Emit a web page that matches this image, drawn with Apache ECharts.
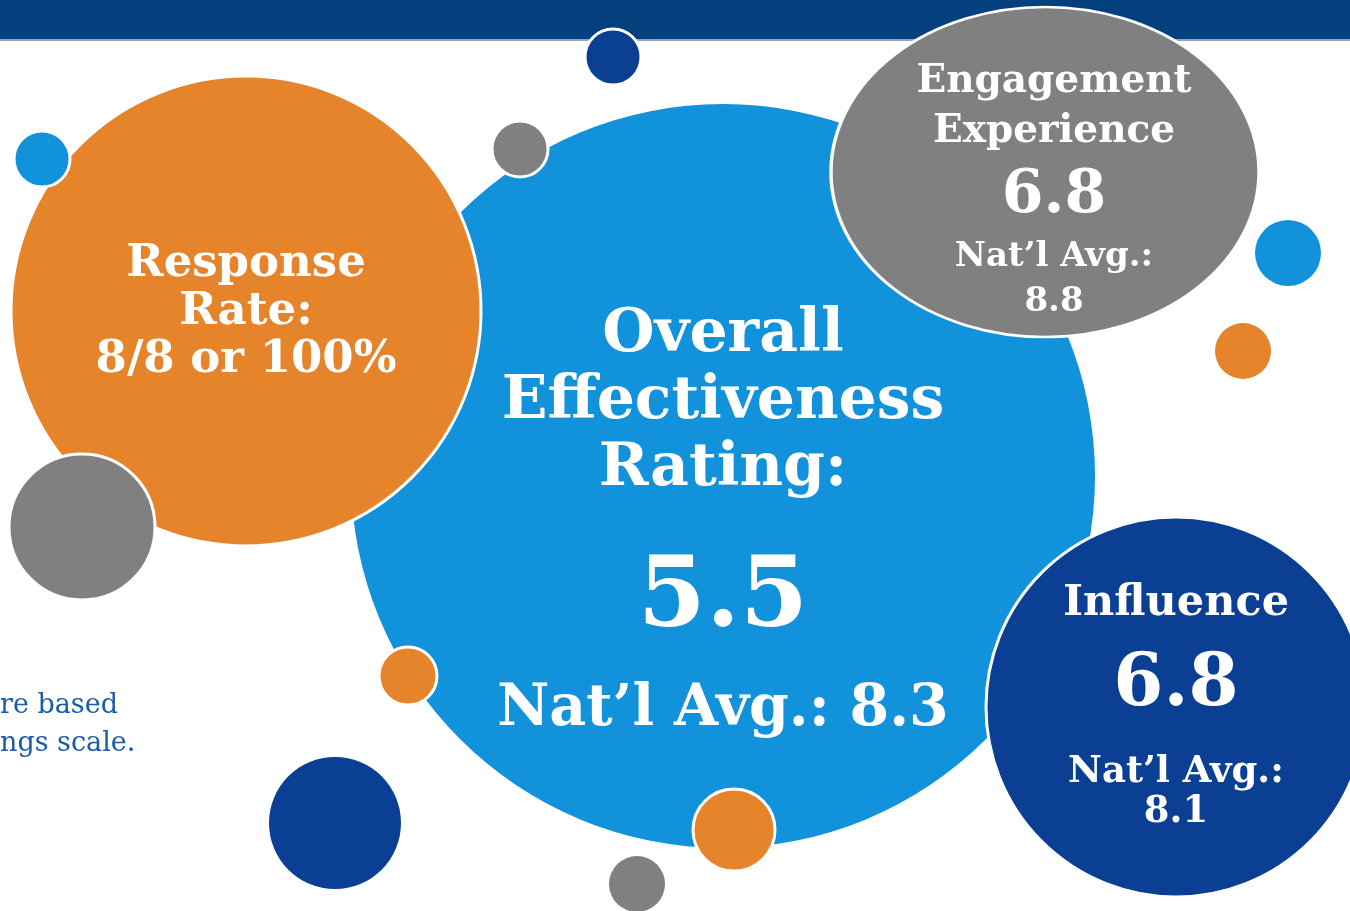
<!DOCTYPE html>
<html>
<head>
<meta charset="utf-8">
<script src="https://cdn.jsdelivr.net/npm/echarts@6/dist/echarts.min.js"></script>
<style>
  html, body { margin: 0; padding: 0; background: #fff; }
  #chart { width: 1350px; height: 911px; }
</style>
</head>
<body>
<div id="chart"></div>
<script>
// ratings shown in the bubbles
const metricNames = ["Overall Effectiveness Rating:", "Response Rate:", "Engagement Experience", "Influence"];
const metricScores = ["5.5", "8/8 or 100%", "6.8", "6.8"];
const natlAverages = ["8.3", null, "8.8", "8.1"];

// bubble layout: [x, y, width, height] on a 1350 x 911 plane
const mainBubbles = [
  [723, 476, 744, 744],
  [246, 311, 470, 470],
  [1045, 172, 428, 330],
  [1176, 707, 380, 380]
];
const mainColors = ["#1392dc", "#e6842c", "#808080", "#0a3f94"];

// decorative dots: [x, y, diameter]
const dots = [
  [42, 159, 56], [520, 149, 56], [613, 57, 56], [1288, 253, 66],
  [1243, 351, 56], [82, 527, 146], [408, 676, 58], [335, 823, 132],
  [734, 830, 82], [637, 884, 56]
];
const dotColors = ["#1392dc", "#808080", "#0a3f94", "#1392dc", "#e6842c",
  "#808080", "#e6842c", "#0a3f94", "#e6842c", "#808080"];
const dotBorders = [true, true, true, false, false, true, true, false, true, false];

const footNote = ["re based", "ngs scale."];

const FONT = "'DejaVu Serif', Georgia, serif";
const chart = echarts.init(document.getElementById("chart"));

function lab(o) {
  return Object.assign({ color: "#fff", fontFamily: FONT, fontWeight: "bold", align: "center" }, o);
}

const labels = [
  {
    offset: [0, 45],
    formatter: "{t|Overall}\n{t|Effectiveness}\n{t|Rating:}\n{s1| }\n{n|" + metricScores[0] + "}\n{s2| }\n{a|Nat\u2019l Avg.: " + natlAverages[0] + "}",
    rich: {
      t: lab({ fontSize: 60, lineHeight: 67 }),
      s1: { fontSize: 1, lineHeight: 38 },
      n: lab({ fontSize: 98, lineHeight: 120 }),
      s2: { fontSize: 1, lineHeight: 20 },
      a: lab({ fontSize: 57, lineHeight: 60 })
    }
  },
  {
    offset: [0, 1],
    formatter: "{t|Response}\n{t|Rate:}\n{t|" + metricScores[1] + "}",
    rich: { t: lab({ fontSize: 45, lineHeight: 48 }) }
  },
  {
    offset: [9, 19],
    formatter: "{t|Engagement}\n{t|Experience}\n{n|" + metricScores[2] + "}\n{a|Nat\u2019l Avg.:}\n{a|" + natlAverages[2] + "}",
    rich: {
      t: lab({ fontSize: 39, lineHeight: 50 }),
      n: lab({ fontSize: 60, lineHeight: 78 }),
      a: lab({ fontSize: 34, lineHeight: 45 })
    }
  },
  {
    offset: [0, -4],
    formatter: "{t|" + metricNames[3] + "}\n{n|" + metricScores[3] + "}\n{s| }\n{a|Nat\u2019l Avg.:}\n{a|" + natlAverages[3] + "}",
    rich: {
      t: lab({ fontSize: 43, lineHeight: 60 }),
      n: lab({ fontSize: 72, lineHeight: 104 }),
      s: { fontSize: 1, lineHeight: 14 },
      a: lab({ fontSize: 37, lineHeight: 40 })
    }
  }
];

chart.setOption({
  animation: false,
  grid: { left: 0, right: 0, top: 0, bottom: 0 },
  xAxis: { type: "value", min: 0, max: 1350, show: false },
  yAxis: { type: "value", min: 0, max: 911, inverse: true, show: false },
  graphic: [
    { type: "rect", z: 0, shape: { x: 0, y: 0, width: 1350, height: 39 }, style: { fill: "#043f7e" } },
    { type: "rect", z: 0, shape: { x: 0, y: 39, width: 1350, height: 2 }, style: { fill: "#8ea6c4" } },
    { type: "text", z: 0, left: 0, top: 692, style: { text: footNote[0], fontFamily: FONT, fontSize: 27, fill: "#1a5ca8" } },
    { type: "text", z: 0, left: 0, top: 730, style: { text: footNote[1], fontFamily: FONT, fontSize: 27, fill: "#1a5ca8" } }
  ],
  series: [
    {
      name: "ratings",
      type: "scatter",
      z: 3,
      symbol: "circle",
      data: mainBubbles.map((b, i) => ({
        value: [b[0], b[1]],
        symbolSize: [b[2], b[3]],
        itemStyle: {
          color: mainColors[i],
          opacity: 1,
          borderColor: "#fff",
          borderWidth: i === 0 ? 0 : 3
        },
        label: Object.assign({ show: true, position: "inside" }, labels[i])
      })),
      emphasis: { disabled: true }
    },
    {
      name: "dots",
      type: "scatter",
      z: 4,
      symbol: "circle",
      data: dots.map((d, i) => ({
        value: [d[0], d[1]],
        symbolSize: d[2],
        itemStyle: {
          color: dotColors[i],
          opacity: 1,
          borderColor: "#fff",
          borderWidth: dotBorders[i] ? 3 : 0
        }
      })),
      emphasis: { disabled: true }
    }
  ]
});
</script>
</body>
</html>
